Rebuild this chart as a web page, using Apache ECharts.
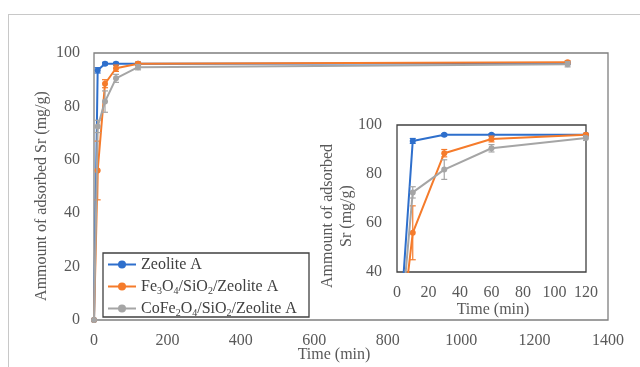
<!DOCTYPE html>
<html>
<head>
<meta charset="utf-8">
<script src="https://cdn.jsdelivr.net/npm/echarts@6/dist/echarts.min.js"></script>
<style>
  html, body { margin: 0; padding: 0; background: #fff; }
  #chart { width: 640px; height: 367px; }
</style>
</head>
<body>
<div id="chart"></div>
<script>
// Sampling times (min)
const times = [0, 10, 30, 60, 120, 1290];

// Amount of adsorbed Sr (mg/g) per adsorbent
const zeoliteA = [0, 93.5, 96, 96, 96, 96.2];
const fe3o4 = [0, 56, 88.5, 94.3, 96, 96.5];
const cofe2o4 = [0, 72.5, 81.8, 90.5, 94.7, 95.8];

// Error bar half-widths (mg/g)
const zeoliteAErr = [0, 1, 0.5, 0.5, 0.5, 0.5];
const fe3o4Err = [0, 11, 1.5, 1.2, 0.6, 0.6];
const cofe2o4Err = [0, 2.3, 4, 1.5, 1, 1];

const seriesNames = ['Zeolite A', 'Fe3O4/SiO2/Zeolite A', 'CoFe2O4/SiO2/Zeolite A'];
const seriesColors = ['#2e6fcc', '#f57b2b', '#a5a5a5'];

// Axis ticks
const mainXTicks = { min: 0, max: 1400, interval: 200 };
const mainYTicks = { min: 0, max: 100, interval: 20 };
const insetXTicks = { min: 0, max: 120, interval: 20 };
const insetYTicks = { min: 40, max: 100, interval: 20 };

const FONT = "'Liberation Serif', 'DejaVu Serif', serif";
const LABEL_COLOR = '#595959';

const values = [zeoliteA, fe3o4, cofe2o4];
const errors = [zeoliteAErr, fe3o4Err, cofe2o4Err];

function pairs(v) { return times.map((t, i) => [t, v[i]]); }
function errRows(v, e) {
  return times.map((t, i) => [t, v[i] - e[i], v[i] + e[i]]).filter((r, i) => e[i] > 0);
}

function errorRender(color) {
  return function (params, api) {
    const p1 = api.coord([api.value(0), api.value(1)]);
    const p2 = api.coord([api.value(0), api.value(2)]);
    const w = 3;
    const style = { stroke: color, lineWidth: 1.2 };
    return {
      type: 'group',
      children: [
        { type: 'line', shape: { x1: p1[0], y1: p1[1], x2: p2[0], y2: p2[1] }, style },
        { type: 'line', shape: { x1: p1[0] - w, y1: p1[1], x2: p1[0] + w, y2: p1[1] }, style },
        { type: 'line', shape: { x1: p2[0] - w, y1: p2[1], x2: p2[0] + w, y2: p2[1] }, style }
      ]
    };
  };
}

const series = [];
[0, 1].forEach(gi => {
  values.forEach((v, si) => {
    series.push({
      name: seriesNames[si],
      type: 'line',
      xAxisIndex: gi,
      yAxisIndex: gi,
      data: pairs(v),
      color: seriesColors[si],
      lineStyle: { width: 2 },
      symbol: 'circle',
      symbolSize: 6,
      clip: true,
      z: 3 + si
    });
    series.push({
      name: seriesNames[si] + ' error',
      type: 'custom',
      xAxisIndex: gi,
      yAxisIndex: gi,
      data: errRows(v, errors[si]),
      renderItem: errorRender(seriesColors[si]),
      clip: true,
      silent: true,
      z: 3 + si
    });
  });
});

const axisLabel = (margin) => ({
  color: LABEL_COLOR, fontFamily: FONT, fontSize: 16, margin,
  formatter: v => String(v)
});

const chart = echarts.init(document.getElementById('chart'), null, { renderer: 'canvas' });
chart.setOption({
  animation: false,
  backgroundColor: '#fff',
  grid: [
    { left: 94, top: 53, width: 514, height: 267, show: true, borderColor: '#7f7f7f', borderWidth: 1.3, backgroundColor: 'transparent' },
    { left: 397, top: 125, width: 189, height: 147, show: true, borderColor: '#404040', borderWidth: 1.3, backgroundColor: '#fff' }
  ],
  xAxis: [
    { gridIndex: 0, type: 'value', ...mainXTicks, axisLine: { show: false }, axisTick: { show: false }, splitLine: { show: false }, axisLabel: axisLabel(13) },
    { gridIndex: 1, type: 'value', ...insetXTicks, axisLine: { show: false }, axisTick: { show: false }, splitLine: { show: false }, axisLabel: axisLabel(13) }
  ],
  yAxis: [
    { gridIndex: 0, type: 'value', ...mainYTicks, axisLine: { show: false }, axisTick: { show: false }, splitLine: { show: false }, axisLabel: axisLabel(14) },
    { gridIndex: 1, type: 'value', ...insetYTicks, axisLine: { show: false }, axisTick: { show: false }, splitLine: { show: false }, axisLabel: axisLabel(15) }
  ],
  legend: {
    data: seriesNames,
    orient: 'vertical',
    left: 107,
    top: 255,
    padding: 0,
    itemGap: 3,
    itemWidth: 28,
    itemHeight: 10,
    z: 20,
    itemStyle: { borderWidth: 0 },
    textStyle: {
      color: '#404040', fontFamily: FONT, fontSize: 16, lineHeight: 19,
      rich: {
        n: { fontFamily: FONT, fontSize: 16, color: '#404040', lineHeight: 19 },
        s: { fontFamily: FONT, fontSize: 10, color: '#404040', lineHeight: 19, verticalAlign: 'bottom', padding: [6, 0, 0, 0] }
      }
    },
    formatter: name => name.split(/(\d)/).filter(p => p).map(p => /\d/.test(p) ? '{s|' + p + '}' : '{n|' + p + '}').join('')
  },
  graphic: [
    { type: 'line', shape: { x1: 8, y1: 14.5, x2: 640, y2: 14.5 }, style: { stroke: '#c8c8c8', lineWidth: 1 }, z: 0 },
    { type: 'line', shape: { x1: 8.5, y1: 14, x2: 8.5, y2: 367 }, style: { stroke: '#c8c8c8', lineWidth: 1 }, z: 0 },
    { type: 'rect', shape: { x: 103, y: 253, width: 206, height: 64 }, style: { fill: '#fff', stroke: '#404040', lineWidth: 1.3 }, z: 1 },
    { type: 'text', x: 42, y: 196, rotation: Math.PI / 2, style: { text: 'Ammount of adsorbed Sr (mg/g)', fill: LABEL_COLOR, font: '16px ' + FONT, align: 'center', verticalAlign: 'middle' } },
    { type: 'text', x: 334, y: 355, style: { text: 'Time (min)', fill: LABEL_COLOR, font: '16px ' + FONT, align: 'center', verticalAlign: 'middle' } },
    { type: 'text', x: 337, y: 216, rotation: Math.PI / 2, style: { text: 'Ammount of adsorbed\nSr (mg/g)', fill: LABEL_COLOR, font: '16px ' + FONT, lineHeight: 19, align: 'center', verticalAlign: 'middle' } },
    { type: 'text', x: 493, y: 310, style: { text: 'Time (min)', fill: LABEL_COLOR, font: '16px ' + FONT, align: 'center', verticalAlign: 'middle' } }
  ],
  series
});
</script>
</body>
</html>
